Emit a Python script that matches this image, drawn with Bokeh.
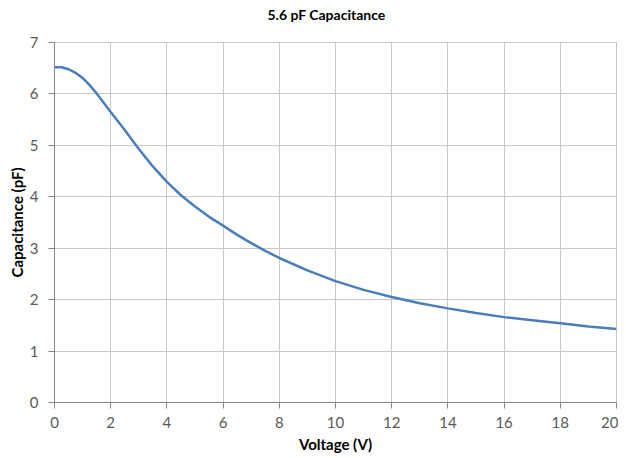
from bokeh.plotting import figure
from bokeh.models import FixedTicker, Range1d
from bokeh.embed import file_html
from bokeh.resources import INLINE

voltage = [0, 0.25, 0.5, 0.75, 1.0, 1.25, 1.5, 2.0, 2.5, 3.0, 3.5, 4.0, 4.5, 5.0, 5.5,
           6.0, 6.5, 7.0, 7.5, 8.0, 9.0, 10.0, 11.0, 12.0, 13.0, 14.0, 15.0, 16.0,
           17.0, 18.0, 19.0, 20.0]
capacitance = [6.52, 6.52, 6.48, 6.41, 6.31, 6.17, 6.01, 5.65, 5.30, 4.93, 4.59, 4.29,
               4.03, 3.81, 3.61, 3.44, 3.26, 3.10, 2.95, 2.81, 2.57, 2.36, 2.19, 2.05,
               1.93, 1.83, 1.74, 1.66, 1.60, 1.54, 1.48, 1.43]
x_ticks = list(range(0, 21, 2))
y_ticks = list(range(0, 8))

FONT = "Lato"

p = figure(width=618, height=458, output_backend="svg", toolbar_location=None,
           title="5.6 pF Capacitance\n",
           x_range=Range1d(0, 20), y_range=Range1d(0, 7))
p.min_border_left = 54
p.min_border_right = 2
p.min_border_top = 42
p.min_border_bottom = 56

p.title.align = "left"
p.title.offset = 213
p.title.standoff = 5
p.title.text_font = FONT
p.title.text_font_size = "14px"
p.title.text_font_style = "bold"
p.title.text_color = "#000000"

p.line(voltage, capacitance, line_color="#4A7EBB", line_width=2.5)

for ax in (p.xaxis[0], p.yaxis[0]):
    ax.major_label_text_font = FONT
    ax.major_label_text_font_size = "15px"
    ax.major_label_text_color = "#595959"
    ax.axis_label_text_font = FONT
    ax.axis_label_text_font_size = "15px"
    ax.axis_label_text_font_style = "bold"
    ax.axis_label_text_color = "#000000"
    ax.axis_line_color = "#868686"
    ax.major_tick_line_color = "#868686"
    ax.major_tick_out = 6
    ax.major_tick_in = 0
    ax.minor_tick_line_color = None

p.xaxis.ticker = FixedTicker(ticks=x_ticks)
p.yaxis.ticker = FixedTicker(ticks=y_ticks)
p.xaxis.axis_label = "Voltage (V)"
p.yaxis.axis_label = "Capacitance (pF)"
p.xaxis.major_label_standoff = 8
p.yaxis.major_label_standoff = 10
p.xaxis.axis_label_standoff = 4
p.yaxis.axis_label_standoff = 1

p.xgrid.grid_line_color = "#c8c8c8"
p.ygrid.grid_line_color = "#c8c8c8"
p.xgrid.ticker = FixedTicker(ticks=x_ticks)
p.ygrid.ticker = FixedTicker(ticks=y_ticks)
p.outline_line_color = "#c8c8c8"
p.background_fill_color = "white"
p.border_fill_color = "white"

open("out.html", "w").write(file_html(p, INLINE))
